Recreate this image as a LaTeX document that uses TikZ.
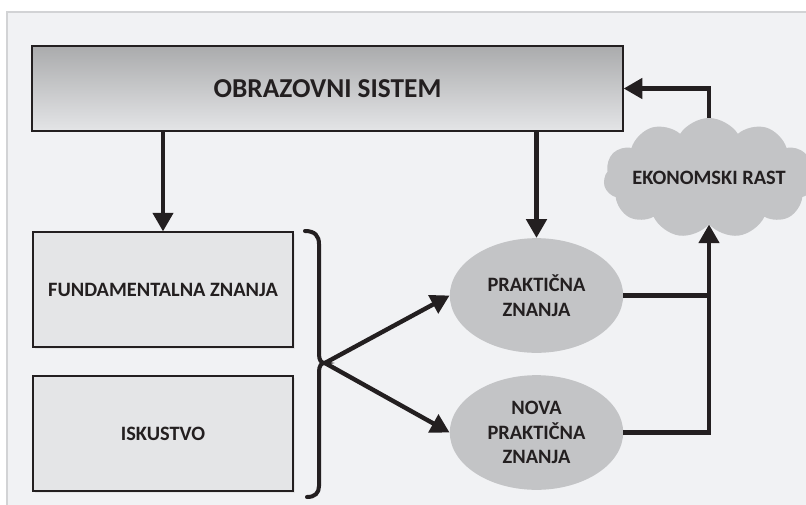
\documentclass[tikz,border=0pt]{standalone}
\usepackage{fontspec}
\setmainfont{Carlito}
\usetikzlibrary{arrows.meta, shapes.geometric, shapes.symbols, shadows, calc}

\definecolor{framebg}{HTML}{F1F2F4}
\definecolor{framebd}{HTML}{D2D3D5}
\definecolor{boxfill}{HTML}{E4E5E7}
\definecolor{ovalfill}{HTML}{C3C4C6}
\definecolor{ink}{HTML}{231F20}

\begin{document}
\begin{tikzpicture} [x=0.75pt, y=-0.75pt, align=center, text=ink,
  small/.style={font=\fontsize{15.3}{18.6}\selectfont\bfseries},
  box/.style={rectangle, draw=ink, line width=1.1pt, fill=boxfill, small,
    minimum width=195pt, minimum height=86pt,
    drop shadow={shadow xshift=1.2pt, shadow yshift=-1.5pt, opacity=0.12}},
  oval/.style={ellipse, fill=ovalfill, small, inner sep=0pt,
    minimum width=130pt, minimum height=86pt},
  puff/.style={cloud, cloud puffs=11, cloud puff arc=115, cloud ignores aspect,
    fill=ovalfill, small, inner sep=0pt, minimum width=148pt, minimum height=90pt},
  arr/.style={draw=ink, line width=3.3pt, -{Triangle[length=14pt, width=15pt]}},
  link/.style={draw=ink, line width=3.3pt}]

\useasboundingbox (0, 0) rectangle (806, 504);
\fill[framebg] (7, 12) rectangle (812, 512);
\draw[framebd, line width=0.8pt] (7, 512) -- (7, 12) -- (812, 12);

\path (327.5, 88.5) node[rectangle, draw=ink, line width=1.2pt,
        top color=ovalfill!85!black!95, bottom color=boxfill,
        minimum width=443pt, minimum height=64pt,
        font=\fontsize{20.5}{24}\selectfont\bfseries] (obraz) {OBRAZOVNI SISTEM}
      (163, 289.5) node[box] (fund) {FUNDAMENTALNA ZNANJA}
      (163, 433.5) node[box] (isk) {ISKUSTVO}
      (536.5, 295.5) node[oval] (prak) {PRAKTIČNA\\ZNANJA}
      (536.5, 432.5) node[oval] (nova) {NOVA\\PRAKTIČNA\\ZNANJA}
      (709, 178) node[puff] (rast) {EKONOMSKI RAST};

\coordinate (tip) at (325, 363);
\draw[ink, line width=3pt, line cap=round]
  (305, 231) .. controls (315, 231) and (319, 236) .. (319, 244) -- (319, 354)
  .. controls (319, 360) and (321, 363) .. (tip)
  .. controls (321, 363) and (319, 366) .. (319, 372) -- (319, 486)
  .. controls (319, 493) and (315, 497) .. (307, 497);

\draw[arr] (obraz.south -| fund.north) -- (fund.north);
\draw[arr] (obraz.south -| prak.north) -- (prak.north);
\draw[arr] (tip) -- (prak.west);
\draw[arr] (tip) -- (nova.west);
\draw[link] (prak.east) -- (prak.east -| rast.south);
\draw[arr] (nova.east) -| (rast.south);
\draw[arr] (rast.north) |- (obraz.east);

\end{tikzpicture}
\end{document}
